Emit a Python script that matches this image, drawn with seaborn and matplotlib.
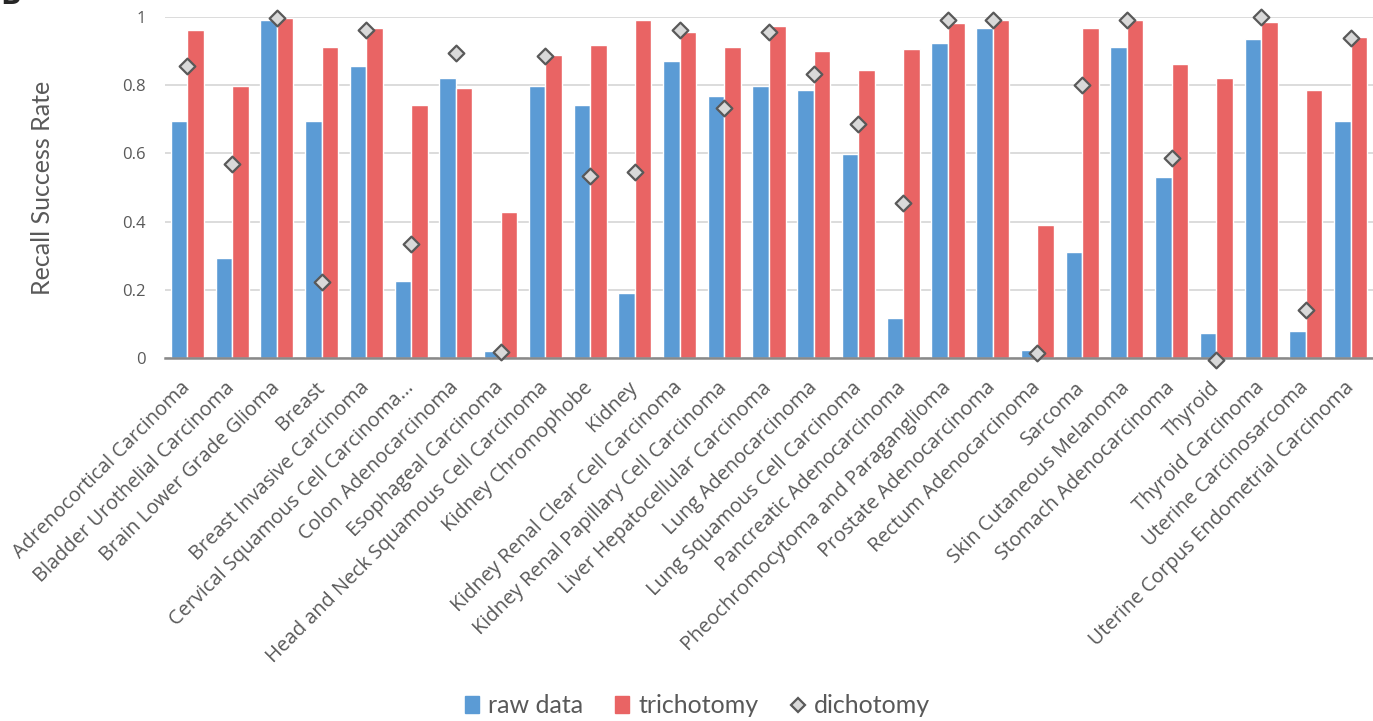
import pandas as pd
import matplotlib.pyplot as plt
from matplotlib.patches import Patch
from matplotlib.lines import Line2D
import seaborn as sns

cancers = ["Adrenocortical Carcinoma", "Bladder Urothelial Carcinoma", "Brain Lower Grade Glioma",
           "Breast", "Breast Invasive Carcinoma", "Cervical Squamous Cell Carcinoma...",
           "Colon Adenocarcinoma", "Esophageal Carcinoma", "Head and Neck Squamous Cell Carcinoma",
           "Kidney Chromophobe", "Kidney", "Kidney Renal Clear Cell Carcinoma",
           "Kidney Renal Papillary Cell Carcinoma", "Liver Hepatocellular Carcinoma",
           "Lung Adenocarcinoma", "Lung Squamous Cell Carcinoma", "Pancreatic Adenocarcinoma",
           "Pheochromocytoma and Paraganglioma", "Prostate Adenocarcinoma", "Rectum Adenocarcinoma",
           "Sarcoma", "Skin Cutaneous Melanoma", "Stomach Adenocarcinoma", "Thyroid",
           "Thyroid Carcinoma", "Uterine Carcinosarcoma", "Uterine Corpus Endometrial Carcinoma"]

raw_data = [0.695, 0.293, 0.990, 0.695, 0.857, 0.228, 0.822, 0.021, 0.797, 0.743, 0.191, 0.870,
            0.767, 0.797, 0.785, 0.597, 0.118, 0.923, 0.966, 0.026, 0.311, 0.912, 0.530, 0.075,
            0.936, 0.081, 0.694]
trichotomy = [0.960, 0.797, 0.997, 0.912, 0.966, 0.743, 0.790, 0.428, 0.887, 0.918, 0.990, 0.955,
              0.912, 0.972, 0.900, 0.845, 0.906, 0.983, 0.990, 0.390, 0.966, 0.990, 0.863, 0.820,
              0.984, 0.785, 0.941]
dichotomy = [0.855, 0.570, 0.997, 0.225, 0.960, 0.335, 0.893, 0.018, 0.886, 0.534, 0.547, 0.960,
             0.734, 0.955, 0.832, 0.686, 0.455, 0.990, 0.990, 0.015, 0.801, 0.990, 0.588, -0.003,
             0.998, 0.142, 0.937]

series = ["raw data", "trichotomy"]
colors = ["#5B9BD5", "#E96464"]
grey = "#595959"

bars = pd.DataFrame({"cancer": cancers * 2,
                     "series": [series[0]] * len(cancers) + [series[1]] * len(cancers),
                     "rate": raw_data + trichotomy})
dicho = pd.DataFrame({"cancer": cancers, "rate": dichotomy})

sns.set_style("white")
plt.rcParams["font.family"] = ["Open Sans", "DejaVu Sans"]

fig = plt.figure(figsize=(13.73, 7.21), dpi=100)
ax = fig.add_axes([0.1202, 0.5028, 0.8798, 0.474])

sns.barplot(data=bars, x="cancer", y="rate", hue="series", order=cancers, hue_order=series,
            palette=colors, saturation=1, width=0.74, gap=0, errorbar=None, legend=False,
            ax=ax, zorder=2)
sns.stripplot(data=dicho, x="cancer", y="rate", order=cancers, jitter=False, marker="D",
              size=8, color="#D9D9D9", edgecolor=grey, linewidth=1.6, ax=ax, zorder=4,
              clip_on=False)

ax.set_xlim(-0.5, len(cancers) - 0.5)
ax.set_ylim(0, 1)
ax.set_yticks([0, 0.2, 0.4, 0.6, 0.8, 1.0])
ax.set_yticklabels(["0", "0.2", "0.4", "0.6", "0.8", "1"], fontsize=12, color=grey)
ax.yaxis.grid(True, color="#D9D9D9", lw=1.3)
ax.xaxis.grid(False)
ax.set_axisbelow(True)
for s in ["left", "top", "right"]:
    ax.spines[s].set_visible(False)
ax.spines["bottom"].set_color("#898989")
ax.spines["bottom"].set_linewidth(1.8)
ax.spines["bottom"].set_zorder(3)

ax.set_xticks(range(len(cancers)))
ax.set_xticklabels(cancers, rotation=45, ha="right", va="center", rotation_mode="anchor",
                   fontsize=14.3, color=grey)
ax.tick_params(axis="x", length=0, pad=19)
ax.tick_params(axis="y", length=0, pad=14)
ax.set_xlabel("")
ax.set_ylabel("Recall Success Rate", fontsize=18, color=grey, family=["Lato", "DejaVu Sans"])
ax.yaxis.set_label_coords(-0.092, 0.5)

handles = [Patch(color=colors[0], label=series[0]),
           Patch(color=colors[1], label=series[1]),
           Line2D([], [], ls="none", marker="D", ms=7, mfc="#D9D9D9", mec=grey, mew=1.6,
                  label="dichotomy")]
fig.legend(handles=handles, loc="center", bbox_to_anchor=(0.508, 0.021), ncol=3,
           frameon=False, handlelength=0.56, handleheight=0.64, handletextpad=0.36,
           columnspacing=1.28, prop={"family": ["Lato", "DejaVu Sans"], "size": 18},
           labelcolor=grey)

# panel letter, mostly cut off at the top edge as in the source figure
fig.text(0.0, 1 - 4 / 721, "B", fontsize=22, fontweight="bold", va="baseline", ha="left")

fig.savefig("out.png", dpi=100)
